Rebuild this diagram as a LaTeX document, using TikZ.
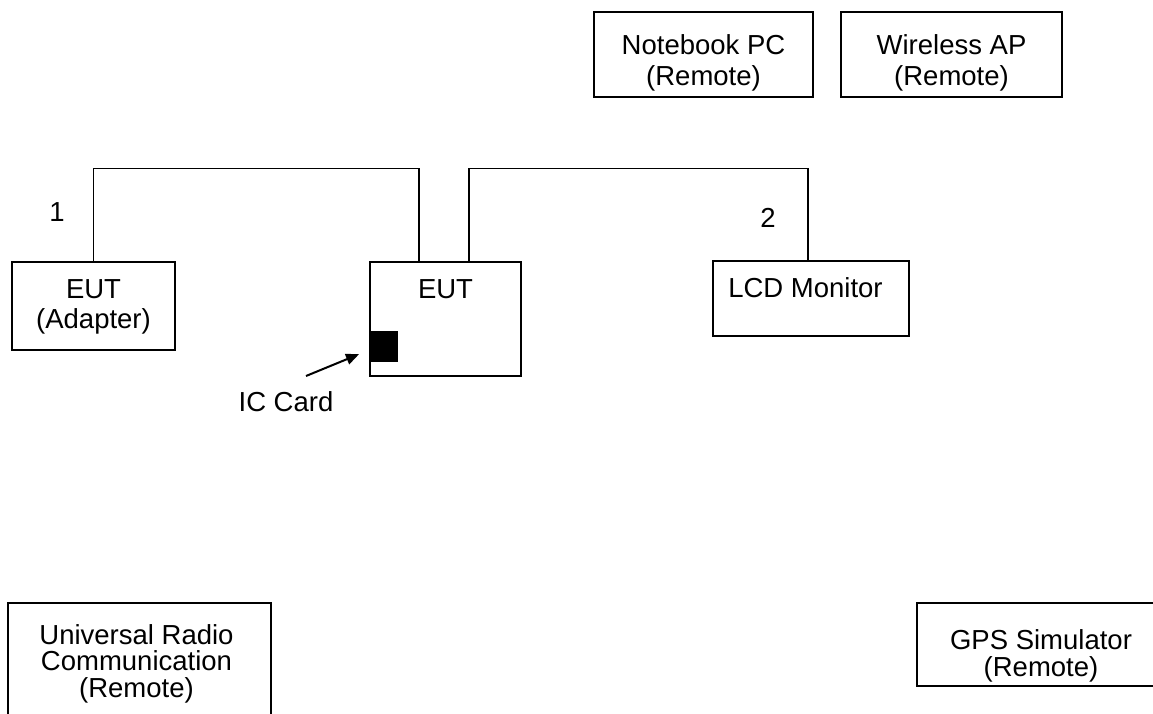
\documentclass[tikz,border=0pt]{standalone}
\usepackage{fontspec}
\setmainfont{Liberation Sans}
\usetikzlibrary{arrows.meta}
\begin{document}
\begin{tikzpicture}[x=1pt,y=1pt,
  box/.style={draw,line width=1.6pt,inner sep=0pt,rectangle},
  wire/.style={draw,line width=1.4pt},
  txt/.style={inner sep=0pt,align=center,anchor=base,font=\fontsize{27.5}{30.5}\selectfont},
  txtb/.style={inner sep=0pt,align=center,anchor=base,font=\fontsize{27.5}{26.5}\selectfont}]
\useasboundingbox (0,0) rectangle (1153,-713);
\clip (0,0) rectangle (1153,-713);
\fill[white] (0,0) rectangle (1153,-713);
% boxes
\node[box,minimum width=219,minimum height=85] (nb) at (703.5,-54.5) {};
\node[box,minimum width=221,minimum height=85] (ap) at (951.5,-54.5) {};
\node[box,minimum width=163,minimum height=88] (adp) at (93.5,-306) {};
\node[box,minimum width=151,minimum height=114] (eut) at (445.5,-319) {};
\node[box,minimum width=196,minimum height=75] (lcd) at (811,-298.5) {};
\node[box,minimum width=263,minimum height=140] (urc) at (139.5,-673) {};
\node[box,minimum width=248,minimum height=83] (gps) at (1041,-644.5) {};
\node[fill=black,inner sep=0pt,minimum width=28,minimum height=31,anchor=north west] (ic) at (370,-331) {};
% texts
\node[txt] (tnb) at (703.5,-85) {Notebook PC\\(Remote)};
\node[txt] (tap) at (951.5,-85) {Wireless AP\\(Remote)};
\node[txt] (tadp) at (93.5,-328.5) {EUT\\(Adapter)};
\node[txt] (teut) at (445.5,-298) {EUT};
\node[txt] (tlcd) at (805.5,-297) {LCD Monitor};
\node[txt] (tic) at (286,-411.7) {IC Card};
\node[txt] (n1) at (57,-221.7) {1};
\node[txt] (n2) at (768,-227) {2};
\node[txtb] (turc) at (136.5,-697) {Universal Radio\\Communication\\(Remote)};
\node[txtb] (tgps) at (1041,-676) {GPS Simulator\\(Remote)};
% connectors
\draw[wire] (adp.north) -- ++(0,93) -| ([xshift=-26.5]eut.north);
\draw[wire] ([xshift=23.5]eut.north) -- ++(0,93) -| ([xshift=-3]lcd.north);
\coordinate (as) at (306,-376);
\draw[line width=2pt,-{Triangle[length=13pt,width=11pt]}] (as) -- ([xshift=-11,yshift=-7.5]ic.west);
\end{tikzpicture}
\end{document}
